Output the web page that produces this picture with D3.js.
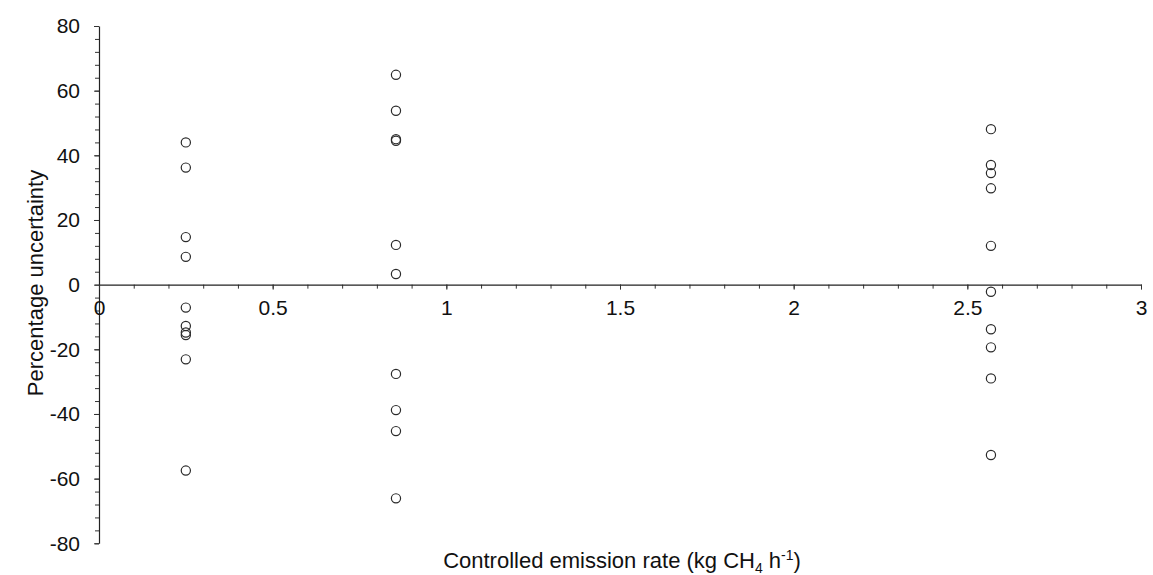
<!DOCTYPE html>
<html>
<head>
<meta charset="utf-8">
<script src="https://cdn.jsdelivr.net/npm/d3@7"></script>
<style>
  body { margin: 0; background: #fff; }
  text { font-family: "Liberation Sans", Arial, sans-serif; fill: #111; }
</style>
</head>
<body>
<script>
// emission rates (kg CH4/h) and measured percentage uncertainty
var rateLow = 0.25;
var rateMid = 0.855;
var rateHigh = 2.568;

var uncLow = [44, 36.2, 14.7, 8.6, -7.1, -12.8, -14.8, -15.6, -23.1, -57.5];
var uncMid = [64.9, 53.8, 45.0, 44.5, 12.3, 3.3, -27.6, -38.8, -45.3, -66.1];
var uncHigh = [48.1, 37.0, 34.5, 29.8, 12.0, -2.2, -13.8, -19.4, -29.0, -52.7];

var xTicks = [0, 0.5, 1, 1.5, 2, 2.5, 3];
var yTicks = [80, 60, 40, 20, 0, -20, -40, -60, -80];

var points = [
  ...uncLow.map(v => ({rate: rateLow, unc: v})),
  ...uncMid.map(v => ({rate: rateMid, unc: v})),
  ...uncHigh.map(v => ({rate: rateHigh, unc: v}))
];

var width = 1153, height = 575;
var margin = {top: 26, right: 12, bottom: 32, left: 99};

var svg = d3.select("body")
  .append("svg")
    .attr("width", width)
    .attr("height", height);

var x = d3.scaleLinear()
  .domain([0, 3])
  .range([margin.left, 1141]);

var y = d3.scaleLinear()
  .domain([-80, 80])
  .range([543.3, margin.top]);

// y axis on the left, minor ticks every 4
var yMinor = d3.range(-80, 81, 4);
svg.append("g")
    .attr("transform", "translate(" + x(0) + ",0)")
    .call(d3.axisLeft(y).tickValues(yMinor).tickSize(4).tickFormat(""))
    .call(g => g.select(".domain").remove())
    .selectAll("line").attr("stroke", "#333");

var yAxis = svg.append("g")
    .attr("transform", "translate(" + x(0) + ",0)")
    .call(d3.axisLeft(y).tickValues(yTicks).tickSize(5).tickSizeOuter(0).tickPadding(14)
      .tickFormat(d3.format("d")));
yAxis.select(".domain").attr("stroke", "#222").attr("stroke-width", 1.2);
yAxis.selectAll("line").attr("stroke", "#333");
yAxis.selectAll("text")
    .style("font-size", "21px")
    .text(d => String(d));

// x axis through zero, minor ticks every 0.1
svg.append("g")
    .attr("transform", "translate(0," + y(0) + ")")
    .call(d3.axisBottom(x).tickValues(d3.range(0, 3.01, 0.1)).tickSize(4).tickFormat(""))
    .call(g => g.select(".domain").remove())
    .selectAll("line").attr("stroke", "#333");

var xAxis = svg.append("g")
    .attr("transform", "translate(0," + y(0) + ")")
    .call(d3.axisBottom(x).tickValues(xTicks).tickSize(5).tickSizeOuter(0).tickPadding(10)
      .tickFormat(d => String(d)));
xAxis.select(".domain").attr("stroke", "#222").attr("stroke-width", 1.2);
xAxis.selectAll("line").attr("stroke", "#333");
xAxis.selectAll("text").style("font-size", "21px");

// points
svg.append("g")
  .selectAll("circle")
  .data(points)
  .enter()
  .append("circle")
    .attr("cx", d => x(d.rate))
    .attr("cy", d => y(d.unc))
    .attr("r", 4.6)
    .attr("fill", "none")
    .attr("stroke", "#2a2a2a")
    .attr("stroke-width", 1.2);

// axis titles
var xTitle = svg.append("text")
    .attr("x", 622)
    .attr("y", 568)
    .attr("text-anchor", "middle")
    .style("font-size", "22px");
xTitle.append("tspan").text("Controlled emission rate (kg CH");
xTitle.append("tspan").attr("dy", 5).style("font-size", "14px").text("4");
xTitle.append("tspan").attr("dy", -5).text(" h");
xTitle.append("tspan").attr("dy", -8).style("font-size", "14px").text("-1");
xTitle.append("tspan").attr("dy", 8).text(")");

svg.append("text")
    .attr("transform", "translate(43,283) rotate(-90)")
    .attr("text-anchor", "middle")
    .style("font-size", "22px")
    .text("Percentage uncertainty");
</script>
</body>
</html>
